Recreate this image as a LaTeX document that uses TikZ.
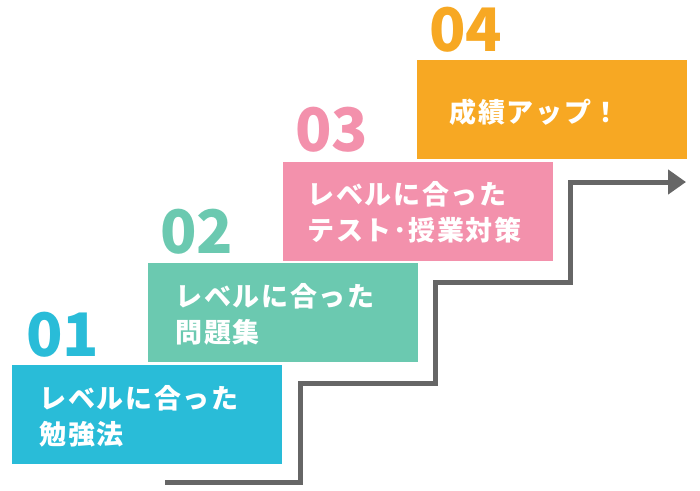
\documentclass[tikz,border=0pt]{standalone}
\usepackage{fontspec}
\newfontfamily\cjk{Noto Sans CJK JP}[LetterSpace=6]
\newfontfamily\numf{Noto Sans CJK JP}
\usetikzlibrary{arrows.meta}
\definecolor{c1}{HTML}{29BCD8}
\definecolor{c2}{HTML}{6BC9B0}
\definecolor{c3}{HTML}{F391AC}
\definecolor{c4}{HTML}{F7A823}
\definecolor{gl}{HTML}{666666}
\tikzset{
 stepbox/.style={anchor=north west,minimum width=270pt,minimum height=99pt,inner sep=0pt},
 lbl/.style={anchor=west,text=white,font=\cjk\bfseries\fontsize{27pt}{36pt}\selectfont,align=left},
 num/.style={anchor=west,font=\numf\bfseries\fontsize{60pt}{60pt}\selectfont,inner sep=0pt}
}
\begin{document}
\begin{tikzpicture}[x=1pt,y=-1pt]
\useasboundingbox (0,0) rectangle (700,490);
\node[stepbox,fill=c1] (b1) at (12,365) {};
\node[stepbox,fill=c2] (b2) at (148,263) {};
\node[stepbox,fill=c3] (b3) at (283,162) {};
\node[stepbox,fill=c4] (b4) at (417,60) {};
\node[num,text=c1] (n1) at (26,335) {01};
\node[num,text=c2] (n2) at (160,232) {02};
\node[num,text=c3] (n3) at (295,130) {03};
\node[num,text=c4] (n4) at (429,30) {04};
\node[lbl] (t1) at (36,416) {レベルに合った\\勉強法};
\node[lbl] (t2) at (172,314) {レベルに合った\\問題集};
\node[lbl] (t3) at (304,212) {レベルに合った\\テスト･授業対策};
\node[lbl] (t4) at (446,112) {成績アップ！};
\coordinate (s) at (165,482);
\coordinate (e) at (686,182);
\draw[gl,line width=5pt,-{Triangle[length=18pt,width=24pt]}] (s) -- (300,482) -- (300,383) -- (435,383) -- (435,282) -- (570,282) -- (570,182) -- (e);
\end{tikzpicture}
\end{document}
